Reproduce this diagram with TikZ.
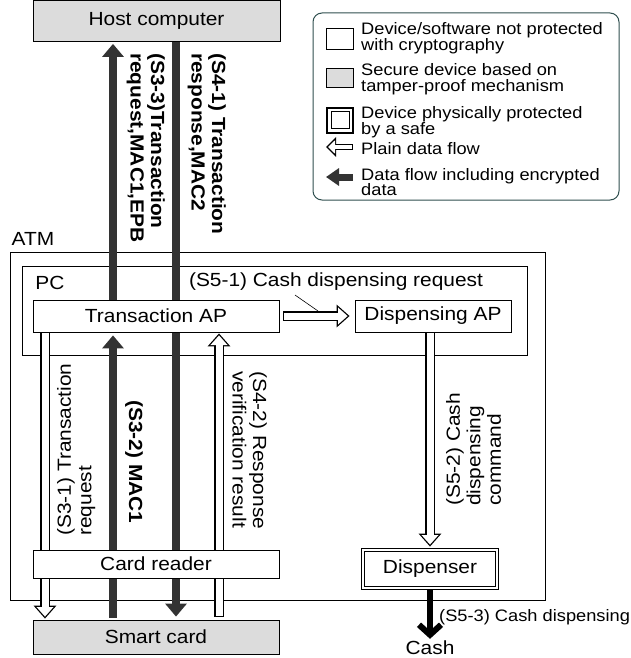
\documentclass[tikz,border=0pt]{standalone}
\usepackage{fontspec}
\setmainfont{Liberation Sans}[FakeStretch=1.1]
\usetikzlibrary{arrows.meta,calc}
\definecolor{boxgray}{HTML}{DCDCDC}
\definecolor{flowblack}{HTML}{333333}
\definecolor{keyline}{HTML}{2F4F4F}
\newcommand\mainsize{\fontsize{19}{20.5}\selectfont}
\newcommand\keysize{\fontsize{16.6}{15.5}\selectfont}
\pgfdeclarelayer{frame}
\pgfdeclarelayer{flow}
\pgfsetlayers{frame,flow,main}
\tikzset{
  unit/.style={draw, fill=white, line width=0.8pt, minimum height=32pt, inner sep=0pt, font=\mainsize},
  secure/.style={unit, fill=boxgray},
  safe/.style={unit, double, double distance=2.4pt},
  frameline/.style={line width=0.8pt},
  cryptflow/.style={draw=flowblack, line width=8pt, -{Triangle[length=13pt,width=21pt]}},
  plainflow/.style={draw=white, line width=7pt, shorten <=1pt, shorten >=2pt,
    -{Triangle[length=9.6pt,width=16.4pt]},
    preaction={draw=black, line width=9.6pt, shorten <=0pt, shorten >=0pt,
      -{Triangle[length=13pt,width=22pt]}}},
  keyplain/.style={draw=white, line width=4pt, shorten <=1pt, shorten >=2pt,
    -{Triangle[length=7pt,width=13pt]},
    preaction={draw=black, line width=6.4pt, shorten <=0pt, shorten >=0pt,
      -{Triangle[length=10pt,width=19pt]}}},
  flowtext/.style={font=\mainsize, align=left, inner sep=0pt},
  keytext/.style={font=\keysize, align=left, inner sep=0pt, anchor=west},
}
\begin{document}
\begin{tikzpicture}[x=1pt,y=-1pt]
\useasboundingbox (0,0) rectangle (630,658);
% devices
\node[secure, minimum width=247pt, minimum height=41pt] (host) at (156.5,21) {Host computer};
\node[unit, minimum width=246pt] (tap) at (156,316) {Transaction AP};
\node[unit, minimum width=156pt] (dap) at (433,316) {Dispensing AP};
\node[unit, minimum width=246pt, minimum height=28pt] (reader) at (156,564) {Card reader};
\node[secure, minimum width=246pt, minimum height=34pt] (card) at (156,637) {Smart card};
\node[safe, minimum width=134pt, minimum height=38pt] (disp) at (430,569) {Dispenser};
\node[font=\mainsize, inner sep=1pt] (cash) at (430,648) {Cash};
% ATM and PC
\begin{pgfonlayer}{frame}
\draw[frameline] (10,252) rectangle (545,600);
\draw[frameline] (22,266) rectangle (527,355);
\end{pgfonlayer}
\node[font=\mainsize] (atm) at (33,239) {ATM};
\node[font=\mainsize] (pc) at (50,283) {PC};
% lanes
\coordinate (laneA) at (45,0);
\coordinate (laneB) at (113,0);
\coordinate (laneC) at (176,0);
\coordinate (laneD) at (219,0);
\coordinate (laneE) at (430,0);
% data flows
\begin{pgfonlayer}{flow}
\draw[plainflow] (tap.south -| laneA) -- ($(card.north -| laneA)+(0,-1)$);
\draw[cryptflow] ($(card.north -| laneB)+(0,-2)$) -- ($(tap.south -| laneB)+(0,3)$);
\draw[cryptflow] (tap.north -| laneB) -- ($(host.south -| laneB)+(0,2)$);
\draw[cryptflow] (host.south -| laneC) -- ($(card.north -| laneC)+(0,-3)$);
\draw[plainflow] ($(card.north -| laneD)+(0,-3)$) -- ($(tap.south -| laneD)+(0,1)$);
\draw[plainflow] ($(tap.east)+(4,0)$) -- ($(dap.west)+(-5,0)$);
\draw[plainflow] (dap.south -| laneE) -- ($(disp.north -| laneE)+(0,-3)$);
\draw[line width=6pt, -{Straight Barb[length=10pt,width=22pt]}] (disp.south -| laneE) -- ($(cash.north -| laneE)+(0,-1)$);
\end{pgfonlayer}
% labels
\node[flowtext, font=\mainsize\bfseries, rotate=-90, anchor=north west] (s33) at (165,53) {(S3-3)Transaction\\request,MAC1,EPB};
\node[flowtext, font=\mainsize\bfseries, rotate=-90, anchor=north west] (s41) at (226,53) {(S4-1) Transaction\\response,MAC2};
\node[flowtext, font=\mainsize\bfseries, rotate=-90, anchor=north west] (s32) at (143,400) {(S3-2) MAC1};
\node[flowtext, rotate=-90, anchor=north west] (s42) at (267,371) {(S4-2) Response\\verification result};
\node[flowtext, rotate=90, anchor=north west] (s31) at (57,536) {(S3-1) Transaction\\request};
\node[flowtext, rotate=90, anchor=north west] (s52) at (446,506) {(S5-2) Cash\\dispensing\\command};
\node[flowtext] (s51) at (336,282) {(S5-1) Cash dispensing request};
\draw[line width=0.6pt] (295,295) -- (318,311);
\node[keytext] (s53) at (439,617) {(S5-3) Cash dispensing};
% legend
\draw[keyline, rounded corners=9pt, line width=1pt] (313,13) rectangle (619,200);
\draw[line width=0.8pt] (326,28) rectangle (353,49);
\draw[line width=0.8pt, fill=boxgray] (326,68) rectangle (353,87);
\draw[line width=1.6pt] (327,108) rectangle (353,133);
\draw[line width=1pt] (331,112) rectangle (349,129);
\draw[keyplain] (353,147) -- (326,147);
\draw[draw=flowblack, line width=7pt, -{Triangle[length=13pt,width=17pt]}] (353,177) -- (326,177);
\node[keytext] (key1) at (361,38) {Device/software not protected\\with cryptography};
\node[keytext] (key2) at (361,79) {Secure device based on\\tamper-proof mechanism};
\node[keytext] (key3) at (361,122) {Device physically protected\\by a safe};
\node[keytext] (key4) at (361,149) {Plain data flow};
\node[keytext] (key5) at (361,182) {Data flow including encrypted\\data};
\end{tikzpicture}
\end{document}
